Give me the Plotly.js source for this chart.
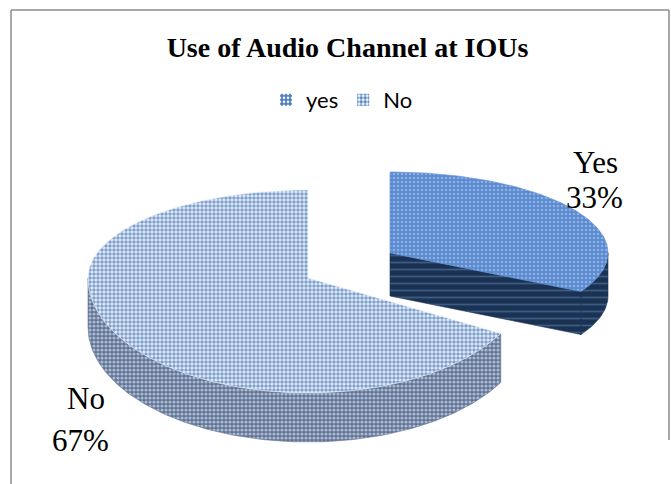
<!DOCTYPE html>
<html>
<head>
<meta charset="utf-8">
<script src="https://cdn.plot.ly/plotly-3.0.1.min.js"></script>
<style>html,body{margin:0;padding:0;background:#fff;}#chart{width:671px;height:484px;}</style>
</head>
<body>
<div id="chart"></div>
<script>
// ---- data ----
const categories = ["yes", "No"];        // legend labels
const sliceNames = ["Yes", "No"];         // data-label names
const values = [33, 67];                  // percent

// ---- geometry / style (layout only) ----
const W = 671, H = 484;
const geo = [
  {cx: 390, cy: 253, rx: 218, ryB: 81, ryF: 80, depth: 43},   // exploded slice
  {cx: 308, cy: 278, rx: 220, ryB: 88, ryF: 115, depth: 49}
];
const topStyle = [
  {bg: '#5b8bd1', fg: '#8fb0e2', shape: '.', size: 4, solidity: 0.3},
  {bg: '#e9f0f9', fg: '#7e9fd0', shape: '.', size: 4, solidity: 0.6}
];
const wallStyle = [
  {bg: '#1c3252', fg: '#3b5b84', shape: '-', size: 7, solidity: 0.25},
  {bg: '#627290', fg: '#a9bbd4', shape: '.', size: 4, solidity: 0.5}
];
const legendStyle = [
  {bg: '#4f81bd', fg: '#ffffff', solidity: 0.3},
  {bg: '#ffffff', fg: '#4f81bd', solidity: 0.55}
];
const labelPos = [
  {name: [595, 162], pct: [594, 197]},
  {name: [86, 398], pct: [80, 440]}
];

function pt(g, th, h) {
  const c = Math.cos(th), s = Math.sin(th);
  return [g.cx + g.rx * s, g.cy - (c >= 0 ? g.ryB : g.ryF) * c + h];
}
function arc(g, a, b, h) {
  const n = Math.max(2, Math.ceil(Math.abs(b - a) / (Math.PI / 180)));
  const out = [];
  for (let k = 0; k <= n; k++) out.push(pt(g, a + (b - a) * k / n, h));
  return out;
}
function poly(points, st) {
  return {
    type: 'scatter', mode: 'lines',
    x: points.map(p => p[0]).concat([points[0][0]]),
    y: points.map(p => p[1]).concat([points[0][1]]),
    fill: 'toself', fillcolor: st.bg,
    fillpattern: {shape: st.shape, bgcolor: st.bg, fgcolor: st.fg, size: st.size, solidity: st.solidity},
    line: {width: 0.6, color: st.bg},
    hoverinfo: 'skip', showlegend: false
  };
}

const total = values.reduce((a, b) => a + b, 0);
const traces = [];
let cum = 0;
values.forEach((v, i) => {
  const g = geo[i];
  const th1 = 2 * Math.PI * cum / total;
  const th2 = 2 * Math.PI * (cum + v) / total;
  cum += v;
  const ctr0 = [g.cx, g.cy], ctr1 = [g.cx, g.cy + g.depth];
  const a = Math.max(th1, Math.PI / 2), b = Math.min(th2, 3 * Math.PI / 2);
  if (a < b) {
    traces.push(poly(arc(g, a, b, 0).concat(arc(g, b, a, g.depth)), wallStyle[i]));
  }
  if (Math.sin(th2) > 1e-6) {
    traces.push(poly([ctr0, pt(g, th2, 0), pt(g, th2, g.depth), ctr1], wallStyle[i]));
  }
  if (Math.sin(th1) < -1e-6) {
    traces.push(poly([ctr0, pt(g, th1, 0), pt(g, th1, g.depth), ctr1], wallStyle[i]));
  }
  traces.push(poly([ctr0].concat(arc(g, th1, th2, 0)), topStyle[i]));
});

// legend proxies (zero-height bars placed outside the visible range)
categories.forEach((c, i) => {
  traces.push({
    type: 'bar', x: [-100], y: [0], name: c,
    marker: {color: legendStyle[i].bg, line: {width: 0},
      pattern: {shape: '.', bgcolor: legendStyle[i].bg, fgcolor: legendStyle[i].fg, size: 5, solidity: legendStyle[i].solidity}},
    hoverinfo: 'skip', showlegend: true
  });
});

const annotations = [];
values.forEach((v, i) => {
  const pct = Math.round(100 * v / total) + '%';
  annotations.push({x: labelPos[i].name[0], y: labelPos[i].name[1], xref: 'x', yref: 'y',
    text: sliceNames[i], showarrow: false, xanchor: 'center', yanchor: 'middle',
    font: {family: 'Liberation Serif, Times New Roman, serif', size: 31, color: '#000'}});
  annotations.push({x: labelPos[i].pct[0], y: labelPos[i].pct[1], xref: 'x', yref: 'y',
    text: pct, showarrow: false, xanchor: 'center', yanchor: 'middle',
    font: {family: 'Liberation Serif, Times New Roman, serif', size: 31, color: '#000'}});
});

const layout = {
  width: W, height: H, autosize: false,
  margin: {l: 0, r: 0, t: 0, b: 0, pad: 0},
  paper_bgcolor: '#fff', plot_bgcolor: '#fff',
  title: {text: '<b>Use of Audio Channel at IOUs</b>', x: 347.5 / W, xanchor: 'center',
    xref: 'container', yref: 'container', y: 1 - 47 / H, yanchor: 'middle',
    font: {family: 'Liberation Serif, Times New Roman, serif', size: 28, color: '#000'}},
  xaxis: {range: [0, W], visible: false, fixedrange: true},
  yaxis: {range: [H, 0], visible: false, fixedrange: true},
  showlegend: true,
  legend: {orientation: 'h', x: 342 / W, xanchor: 'center', y: 1 - 100 / H, yanchor: 'middle',
    font: {family: 'Lato, Calibri, sans-serif', size: 22, color: '#000'}, itemwidth: 30,
    bgcolor: 'rgba(0,0,0,0)', traceorder: 'normal'},
  annotations: annotations,
  shapes: [
    {type: 'line', xref: 'x', yref: 'y', x0: 11, x1: 11, y0: 10, y1: H, line: {color: '#8c8c8c', width: 1.5}},
    {type: 'line', xref: 'x', yref: 'y', x0: 11, x1: 669, y0: 10, y1: 10, line: {color: '#8c8c8c', width: 1.5}},
    {type: 'line', xref: 'x', yref: 'y', x0: 669, x1: 669, y0: 10, y1: 440, line: {color: '#8c8c8c', width: 1.5}}
  ]
};

Plotly.newPlot('chart', traces, layout, {displayModeBar: false, staticPlot: true});
</script>
</body>
</html>
